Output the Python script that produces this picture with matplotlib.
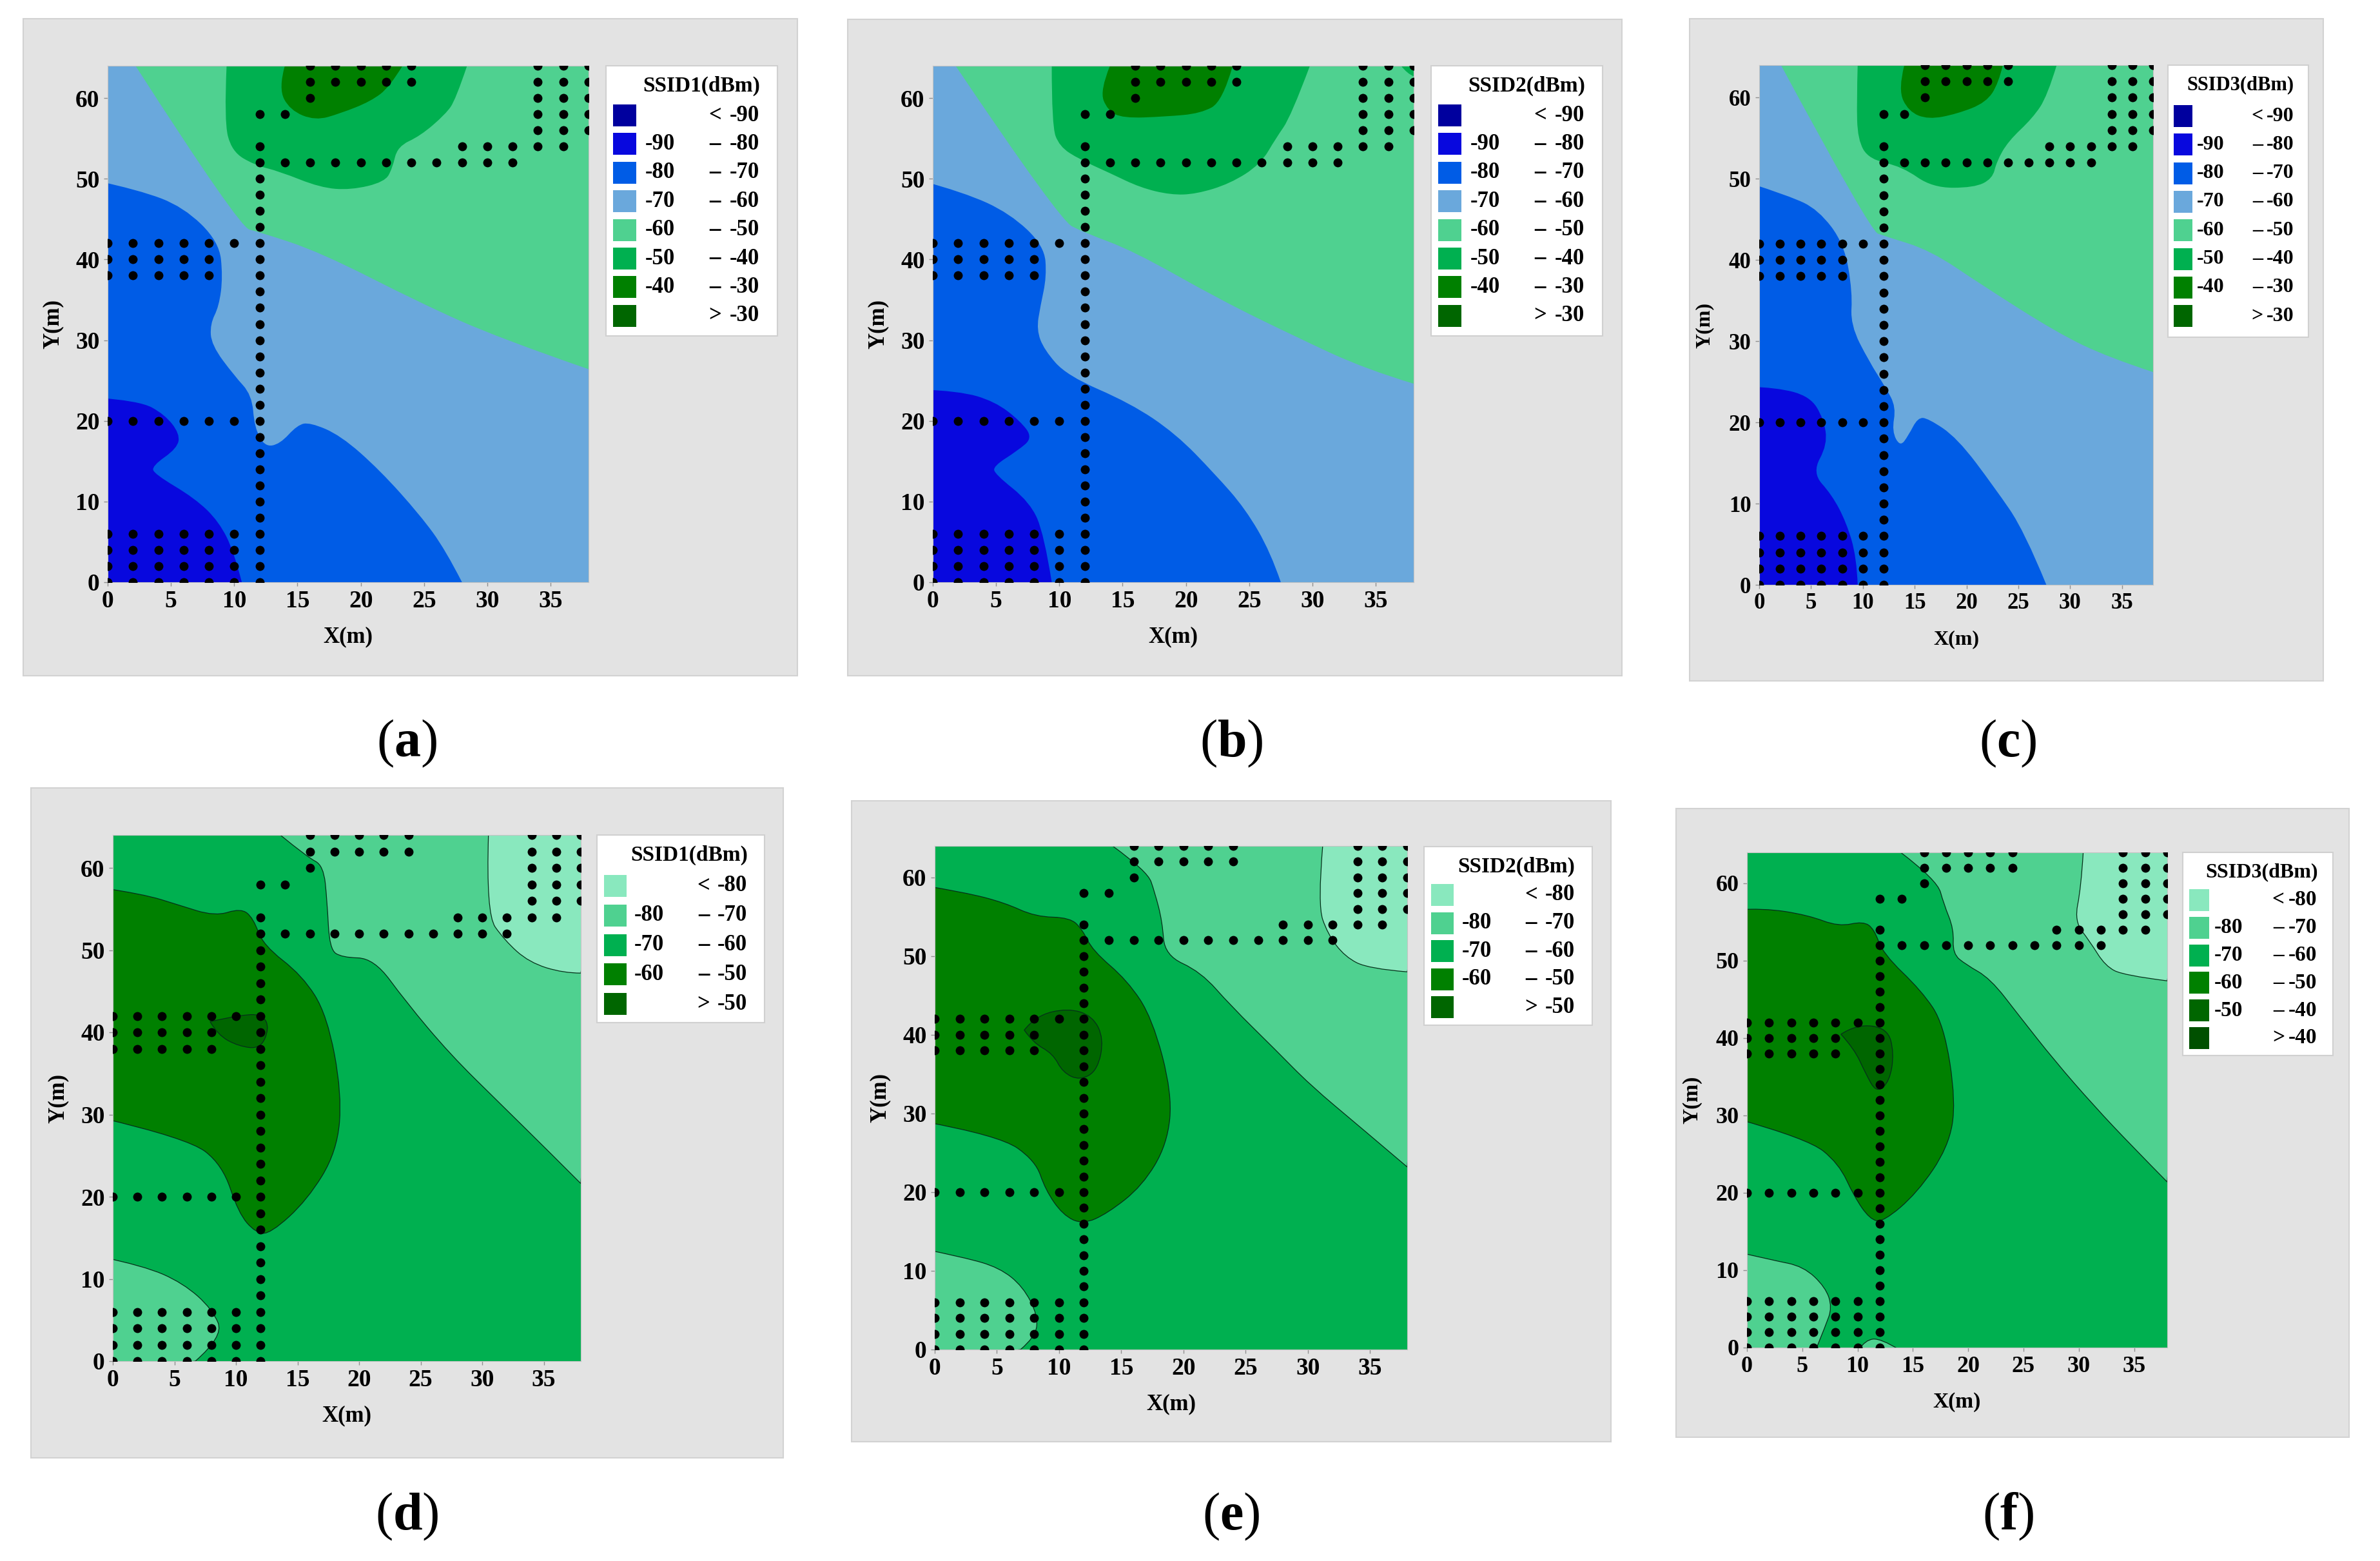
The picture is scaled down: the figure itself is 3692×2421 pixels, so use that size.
import matplotlib
matplotlib.use("Agg")
import matplotlib.pyplot as plt
from matplotlib.patches import PathPatch, Rectangle
from matplotlib.path import Path

plt.rcParams['font.family'] = ['Liberation Serif', 'DejaVu Serif']
plt.rcParams['font.weight'] = 'bold'
plt.rcParams['mathtext.fontset'] = 'custom'
plt.rcParams['mathtext.rm'] = 'Liberation Serif'
plt.rcParams['mathtext.bf'] = 'Liberation Serif:bold'

# couleurs des plages
C_90 = '#00009E'
C_80 = '#0808DE'
C_70 = '#005CE6'
C_60 = '#6AA8DC'
C_50 = '#4FD190'
C_40 = '#00B050'
C_30 = '#008000'
C_20 = '#006600'
C_10 = '#005000'
C_LIGHT = '#89E8BE'

# points de mesure
dots_x = [12] * 28 + [12, 14]
dots_y = list(range(0, 56, 2)) + [58, 58]
dots_x += [14, 16, 18, 20, 22, 24, 26, 28, 30, 32, 28, 30, 32, 34, 36]
dots_y += [52, 52, 52, 52, 52, 52, 52, 52, 52, 52, 54, 54, 54, 54, 54]
dots_x += [34, 36, 38] * 5 + [16, 18, 20, 22, 24] * 2 + [16]
dots_y += [56] * 3 + [58] * 3 + [60] * 3 + [62] * 3 + [64] * 3 + [62] * 5 + [64] * 5 + [60]
dots_x += [0, 2, 4, 6, 8] * 3 + [10]
dots_y += [38] * 5 + [40] * 5 + [42] * 5 + [42]
dots_x += [0, 2, 4, 6, 8, 10]
dots_y += [20] * 6
dots_x += [0, 2, 4, 6, 8, 10] * 4
dots_y += [0] * 6 + [2] * 6 + [4] * 6 + [6] * 6

# (a)
a_g60_x = [2.2, 10.4, 12, 16.8, 24.7, 31, 38]
a_g60_y = [64, 44, 43.4, 40.9, 34.6, 30.2, 26.4]
a_g50_x = [9.4, 9.2, 9.8, 11.6, 13.6, 16.8, 19.2, 21.9, 22.5, 22.9, 24.7, 26.7, 27.5, 28.4]
a_g50_y = [64, 57.2, 53.4, 51.7, 50.9, 48.9, 48.6, 49.6, 51.3, 54, 55.3, 58, 59.8, 64]
a_g40_x = [14, 13.5, 14.4, 16.4, 18.4, 20.8, 22.3, 23.3]
a_g40_y = [64, 61.2, 58.5, 57.2, 58.1, 59.6, 61.4, 64]
a_b80_x = [-1, 2.5, 6, 8.8, 9.1, 8.8, 8.1, 8.2, 10, 11.4, 11.6, 12.4, 13.6, 15, 16, 18.4, 21.5, 24.7, 26.7, 28]
a_b80_y = [49.8, 48.6, 46.5, 42.2, 37.9, 34.2, 32, 29.4, 25.6, 23.2, 19.2, 16.8, 17.1, 19.5, 19.8, 18.2, 13.9, 8.3, 4, 0]
a_b90_x = [-1, 2.5, 4.5, 5.7, 5.5, 3.5, 3.7, 6.9, 8.8, 10, 10.6]
a_b90_y = [22.9, 22.5, 20.8, 18.4, 16.6, 14.4, 13.4, 10.4, 7.5, 3.7, 0]

# (b)
b_g60_x = [1.8, 10, 12, 15.8, 22.7, 28.7, 34.2, 38]
b_g60_y = [64, 44.9, 43.3, 41.1, 35, 30.4, 26.4, 24.6]
b_g50_x = [9.4, 9.4, 10, 11.6, 14, 16.4, 18.8, 20.8, 23.5, 25.9, 27.1, 28.3, 29.8]
b_g50_y = [64, 56.6, 54, 52.4, 50.7, 48.9, 48, 48.1, 49.4, 51.8, 55, 57.7, 64]
b_g50s_x = [37, 37.5, 38]
b_g50s_y = [64, 63, 62.7]
b_g40_x = [14, 13.2, 13.8, 15, 18.4, 21.2, 22.9, 23.7]
b_g40_y = [64, 60.9, 58.5, 57.5, 57.7, 58.1, 59.6, 64]
b_b80_x = [-1, 2.5, 6.1, 8.8, 9, 8.5, 8.2, 8.8, 10.6, 15.6, 19.2, 22.3, 24.7, 26.7, 27.5]
b_b80_y = [49.8, 48.3, 45.7, 41.7, 37.9, 34.2, 31.3, 28.8, 25.6, 22.2, 18.4, 13.4, 9.1, 3.7, 0]
b_b90_x = [-1, 2.1, 4.9, 6.9, 7.9, 6.7, 4.8, 4.9, 7.7, 8.8, 9.4]
b_b90_y = [23.9, 23.7, 22.4, 20, 17.9, 16.3, 14.4, 13.4, 9.9, 5.9, 0]

# (c)
c_g60_x = [2.1, 10.7, 12.2, 16.5, 21.5, 28.8, 33.7, 38]
c_g60_y = [64, 43.6, 42.9, 41.2, 36.9, 31, 28, 26.2]
c_g50_x = [9.5, 9.4, 9.5, 10.6, 13.8, 16.7, 20.7, 22.5, 22.9, 24, 26.4, 27.8, 28.7]
c_g50_y = [64, 59.6, 54.8, 52.4, 51.5, 48.9, 48.9, 50, 52.1, 54.6, 57.5, 60.2, 64]
c_g40_x = [14, 13.4, 14.4, 16.3, 19.1, 21.9, 23.1, 23.5]
c_g40_y = [64, 61, 58.3, 57.3, 58, 59.4, 61.8, 64]
c_b80_x = [-1, 2.9, 5.7, 8.2, 9, 8.8, 10.6, 12.2, 13.2, 12.8, 13.6, 14.4, 15.3, 16.3, 19.1, 22.7, 25.6, 27.7]
c_b80_y = [49.5, 47.9, 46.2, 42, 36, 32, 27.5, 24.3, 21.9, 18.9, 17, 18.4, 20.6, 20.5, 18.1, 12, 6.6, 0]
c_b90_x = [-1, 1.7, 4.9, 6.2, 6.6, 5.1, 7, 8.4, 9.4, 9.5]
c_b90_y = [24.4, 24.3, 23.2, 20.5, 17.3, 13.8, 11.1, 7.7, 3.4, 0]

# (d)
d_tr_x = [13.6, 15.8, 17.1, 17.4, 17.6, 18.6, 21.2, 23.8, 27.4, 31.4, 35.4, 38]
d_tr_y = [64, 61.3, 60.3, 56, 50.1, 49.1, 49, 43.7, 37.3, 31.4, 25.5, 21.6]
d_light_x = [30.5, 30.3, 31.8, 33.8, 36.6, 38]
d_light_y = [64, 54.4, 51.2, 48.5, 47.2, 47.2]
d_dark_x = [-1, 2.5, 5.3, 8.3, 10.4, 11.4, 12.2, 15.4, 17.4, 18.6, 18.2, 15.8, 12.8, 11.6, 10.2, 8.9, 6.1, -1]
d_dark_y = [57.6, 56.8, 55.5, 54.1, 55.1, 53.9, 50.6, 46.9, 42.1, 32.5, 25.5, 19.6, 15.5, 15.6, 18, 23.9, 27.1, 29.6]
d_core_x = [7.9, 10.6, 12.2, 12.7, 12, 10.2, 8.5, 7.9]
d_core_y = [41.3, 42.2, 42.1, 40.5, 38, 38.3, 39.7, 41.3]
d_bl_x = [-1, 2.5, 5.7, 8.1, 9, 6.7]
d_bl_y = [12.7, 11.6, 9.5, 6.3, 3, 0]
d_spot_x = [-1, 0.45, -1]
d_spot_y = [19.5, 18, 16]

# (e)
e_tr_x = [14.3, 17.1, 17.7, 18.3, 18.5, 21.4, 23.8, 27.4, 30.2, 34.2, 38]
e_tr_y = [64, 60.8, 58.1, 54.4, 50.1, 48, 43.7, 38.1, 33.6, 28.3, 23.2]
e_light_x = [31.2, 30.8, 31.6, 33, 34.9, 38]
e_light_y = [64, 56.5, 52.8, 49.9, 48.4, 48]
e_dark_x = [-1, 2.4, 5.6, 8.1, 10.9, 11.9, 12.7, 15.5, 17.5, 19.1, 18.7, 16.7, 13.9, 11.9, 10.3, 8.9, 8.1, 5.2, -1]
e_dark_y = [59, 58.1, 56.8, 55, 54.9, 53.3, 50.7, 46.9, 42.1, 32.5, 26.1, 20.8, 17.3, 15.9, 17.1, 20.3, 24, 27.2, 29]
e_core_x = [7.2, 8.1, 10.7, 12.7, 13.6, 13.1, 11.7, 10.3, 9.5, 7.9, 7.2]
e_core_y = [40.6, 42.4, 43.4, 42.4, 39.5, 35.5, 34.2, 35.2, 37.6, 39, 40.6]
e_bl_x = [-1, 2.4, 5.2, 7.1, 8.3, 8.1, 6.9]
e_bl_y = [12.8, 11.7, 10.4, 8, 4.3, 1.6, 0]

# (f)
f_tr_x = [13.9, 17.2, 17.8, 18.7, 18.6, 19.8, 22, 24.6, 27.8, 31.4, 34.9, 38]
f_tr_y = [64, 60.4, 57.3, 54.1, 50.9, 49.5, 47.7, 42.9, 37.1, 31.2, 25.9, 21.4]
f_light_x = [30.4, 30.2, 29.6, 31, 32.4, 34.1, 38]
f_light_y = [64, 59.4, 55.1, 52.5, 49.3, 48.1, 47.4]
f_dark_x = [-1, 1.5, 5.5, 8.3, 10.5, 11.5, 12.3, 15.8, 17.8, 18.9, 18.2, 15.4, 12.3, 11.1, 9.7, 8.3, 5.5, -1]
f_dark_y = [56.6, 56.8, 55.9, 54.4, 55.1, 54.1, 50.9, 46.1, 41.8, 31.7, 25.9, 20, 16.2, 16.6, 19.5, 23.8, 27, 29.6]
f_core_x = [8.5, 9.9, 12.7, 13.3, 12.9, 11.7, 10.7, 9.7, 8.5]
f_core_y = [40.5, 41.8, 41.3, 38.1, 34.4, 32.9, 35.5, 38.6, 40.5]
f_bl_x = [-1, 2.3, 5.1, 7.1, 7.7, 7.1, 6.3]
f_bl_y = [12.4, 11.3, 10.5, 7.8, 5.2, 2.8, 0]
f_bump_x = [10.1, 10.7, 12.1, 13.8]
f_bump_y = [-0.3, 1, 1.2, -0.3]

x_ticks = [0, 5, 10, 15, 20, 25, 30, 35]
y_ticks = [0, 10, 20, 30, 40, 50, 60]

top_labels = [('', '<', '-90'), ('-90', '–', '-80'), ('-80', '–', '-70'), ('-70', '–', '-60'),
              ('-60', '–', '-50'), ('-50', '–', '-40'), ('-40', '–', '-30'), ('', '>', '-30')]
top_colors = [C_90, C_80, C_70, C_60, C_50, C_40, C_30, C_20]
low_labels = [('', '<', '-80'), ('-80', '–', '-70'), ('-70', '–', '-60'), ('-60', '–', '-50'), ('', '>', '-50')]
low_colors = [C_LIGHT, C_50, C_40, C_30, C_20]
f_labels = [('', '<', '-80'), ('-80', '–', '-70'), ('-70', '–', '-60'), ('-60', '–', '-50'),
            ('-50', '–', '-40'), ('', '>', '-40')]
f_colors = [C_LIGHT, C_50, C_40, C_30, C_20, C_10]

W, H = 3692, 2421
fig = plt.figure(figsize=(W / 100, H / 100), dpi=100, facecolor='white')
bg = fig.add_axes([0, 0, 1, 1], zorder=0)
bg.set_xlim(0, W)
bg.set_ylim(H, 0)
bg.axis('off')


def smooth(xs, ys, corners):
    # les points lus servent de points de controle
    verts = [(xs[0], ys[0])]
    codes = [Path.MOVETO]
    for i in range(1, len(xs) - 1):
        verts.append((xs[i], ys[i]))
        codes.append(Path.CURVE3)
        if i < len(xs) - 2:
            verts.append(((xs[i] + xs[i + 1]) / 2, (ys[i] + ys[i + 1]) / 2))
        else:
            verts.append((xs[-1], ys[-1]))
        codes.append(Path.CURVE3)
    if len(xs) == 2:
        verts.append((xs[1], ys[1]))
        codes.append(Path.LINETO)
    for c in corners:
        verts.append(c)
        codes.append(Path.LINETO)
    verts.append(verts[0])
    codes.append(Path.CLOSEPOLY)
    return Path(verts, codes)


TR = [(40, 66)]
BL = [(-2, -2)]


def panel(rect, plot, leg, title, regions, base, labels, colors, edge, fs, row0, rowgap):
    bg.add_patch(Rectangle((rect[0], rect[1]), rect[2] - rect[0], rect[3] - rect[1],
                           fc='#E3E3E3', ec='#D2D2D2', lw=1.5))
    x0, y0, x1, y1 = plot
    ax = fig.add_axes([x0 / W, 1 - y1 / H, (x1 - x0) / W, (y1 - y0) / H], zorder=2)
    ax.set_xlim(0, 38)
    ax.set_ylim(0, 64)
    ax.set_facecolor(base)
    for xs, ys, col, corners in regions:
        ax.add_patch(PathPatch(smooth(xs, ys, corners), fc=col,
                               ec='#06301A' if edge else 'none', lw=0.9 if edge else 0))
    ax.scatter(dots_x, dots_y, s=100, c='black', linewidths=0, zorder=5)
    ax.set_xticks(x_ticks)
    ax.set_yticks(y_ticks)
    ax.tick_params(length=4, width=1, color='#909090', labelsize=fs + 3, pad=5)
    for s in ax.spines.values():
        s.set_color('#C4C4C4')
        s.set_linewidth(0.8)
    for lab in ax.get_yticklabels() + ax.get_xticklabels():
        lab.set_fontweight('bold')

    bg.text((x0 + x1) / 2, y1 + 85, 'X(m)', ha='center', va='center', fontsize=fs + 1)
    bg.text(x0 - 85, (y0 + y1) / 2, 'Y(m)', ha='center', va='center', rotation=90, fontsize=fs + 1)

    lx0, ly0, lx1, ly1 = leg
    lw_ = lx1 - lx0
    k = lw_ / 267
    ax_leg = fig.add_axes([0, 0, 1, 1], zorder=3)
    ax_leg.set_xlim(0, W)
    ax_leg.set_ylim(H, 0)
    ax_leg.axis('off')
    ax_leg.add_patch(Rectangle((lx0, ly0), lw_, ly1 - ly0, fc='white', ec='#D0D0D0', lw=1.5))
    ax_leg.text(lx0 + 240 * k, ly0 + 31, title, ha='right', va='center', fontsize=fs)
    for i, (lab, col) in enumerate(zip(labels, colors)):
        yy = ly0 + row0 + rowgap * i
        ax_leg.add_patch(Rectangle((lx0 + 11 * k, yy - 17), 36 * k, 34, fc=col, ec='none'))
        ax_leg.text(lx0 + 107 * k, yy, lab[0], ha='right', va='center', fontsize=fs + 1)
        ax_leg.text(lx0 + 170 * k, yy, lab[1], ha='center', va='center', fontsize=fs + 1)
        ax_leg.text(lx0 + 239 * k, yy, lab[2], ha='right', va='center', fontsize=fs + 1)


panel((36, 29, 1237, 1048), (167, 102, 913, 903), (940, 102, 1206, 521), 'SSID1(dBm)',
      [(a_g60_x, a_g60_y, C_50, TR), (a_g50_x, a_g50_y, C_40, []), (a_g40_x, a_g40_y, C_30, []),
       (a_b80_x, a_b80_y, C_70, BL), (a_b90_x, a_b90_y, C_80, BL)],
      C_60, top_labels, top_colors, False, 24, 77, 44.4)
panel((1315, 30, 2516, 1048), (1447, 102, 2193, 903), (2220, 102, 2486, 521), 'SSID2(dBm)',
      [(b_g60_x, b_g60_y, C_50, TR), (b_g50_x, b_g50_y, C_40, []), (b_g50s_x, b_g50s_y, C_40, TR),
       (b_g40_x, b_g40_y, C_30, []), (b_b80_x, b_b80_y, C_70, BL), (b_b90_x, b_b90_y, C_80, BL)],
      C_60, top_labels, top_colors, False, 24, 77, 44.4)
panel((2621, 29, 3604, 1056), (2729, 101, 3340, 907), (3363, 101, 3581, 523), 'SSID3(dBm)',
      [(c_g60_x, c_g60_y, C_50, TR), (c_g50_x, c_g50_y, C_40, []), (c_g40_x, c_g40_y, C_30, []),
       (c_b80_x, c_b80_y, C_70, BL), (c_b90_x, c_b90_y, C_80, BL)],
      C_60, top_labels, top_colors, False, 22, 79, 44.3)
panel((48, 1222, 1215, 2261), (175, 1295, 901, 2111), (926, 1295, 1186, 1586), 'SSID1(dBm)',
      [(d_tr_x, d_tr_y, C_50, TR), (d_light_x, d_light_y, C_LIGHT, TR), (d_dark_x, d_dark_y, C_30, []),
       (d_core_x, d_core_y, C_20, []), (d_bl_x, d_bl_y, C_50, BL), (d_spot_x, d_spot_y, C_50, [])],
      C_40, low_labels, low_colors, True, 24, 79, 45.8)
panel((1321, 1242, 2499, 2236), (1450, 1312, 2183, 2093), (2209, 1313, 2470, 1590), 'SSID2(dBm)',
      [(e_tr_x, e_tr_y, C_50, TR), (e_light_x, e_light_y, C_LIGHT, TR), (e_dark_x, e_dark_y, C_30, []),
       (e_core_x, e_core_y, C_20, []), (e_bl_x, e_bl_y, C_50, BL)],
      C_40, low_labels, low_colors, True, 24, 75, 43.6)
panel((2600, 1254, 3644, 2229), (2710, 1322, 3362, 2090), (3386, 1322, 3619, 1637), 'SSID3(dBm)',
      [(f_tr_x, f_tr_y, C_50, TR), (f_light_x, f_light_y, C_LIGHT, TR), (f_dark_x, f_dark_y, C_30, []),
       (f_core_x, f_core_y, C_20, []), (f_bl_x, f_bl_y, C_50, BL), (f_bump_x, f_bump_y, C_50, [])],
      C_40, f_labels, f_colors, True, 23, 74, 42.8)

cap_x = [631, 1910, 3115, 631, 1910, 3115]
cap_y = [1173, 1173, 1173, 2372, 2372, 2372]
cap_txt = ['a', 'b', 'c', 'd', 'e', 'f']
for cx, cy, t in zip(cap_x, cap_y, cap_txt):
    bg.text(cx, cy, '($\\mathbf{' + t + '}$)', ha='center', va='baseline', fontsize=59,
            fontweight='normal')

fig.savefig('out.png', dpi=100, facecolor='white')
